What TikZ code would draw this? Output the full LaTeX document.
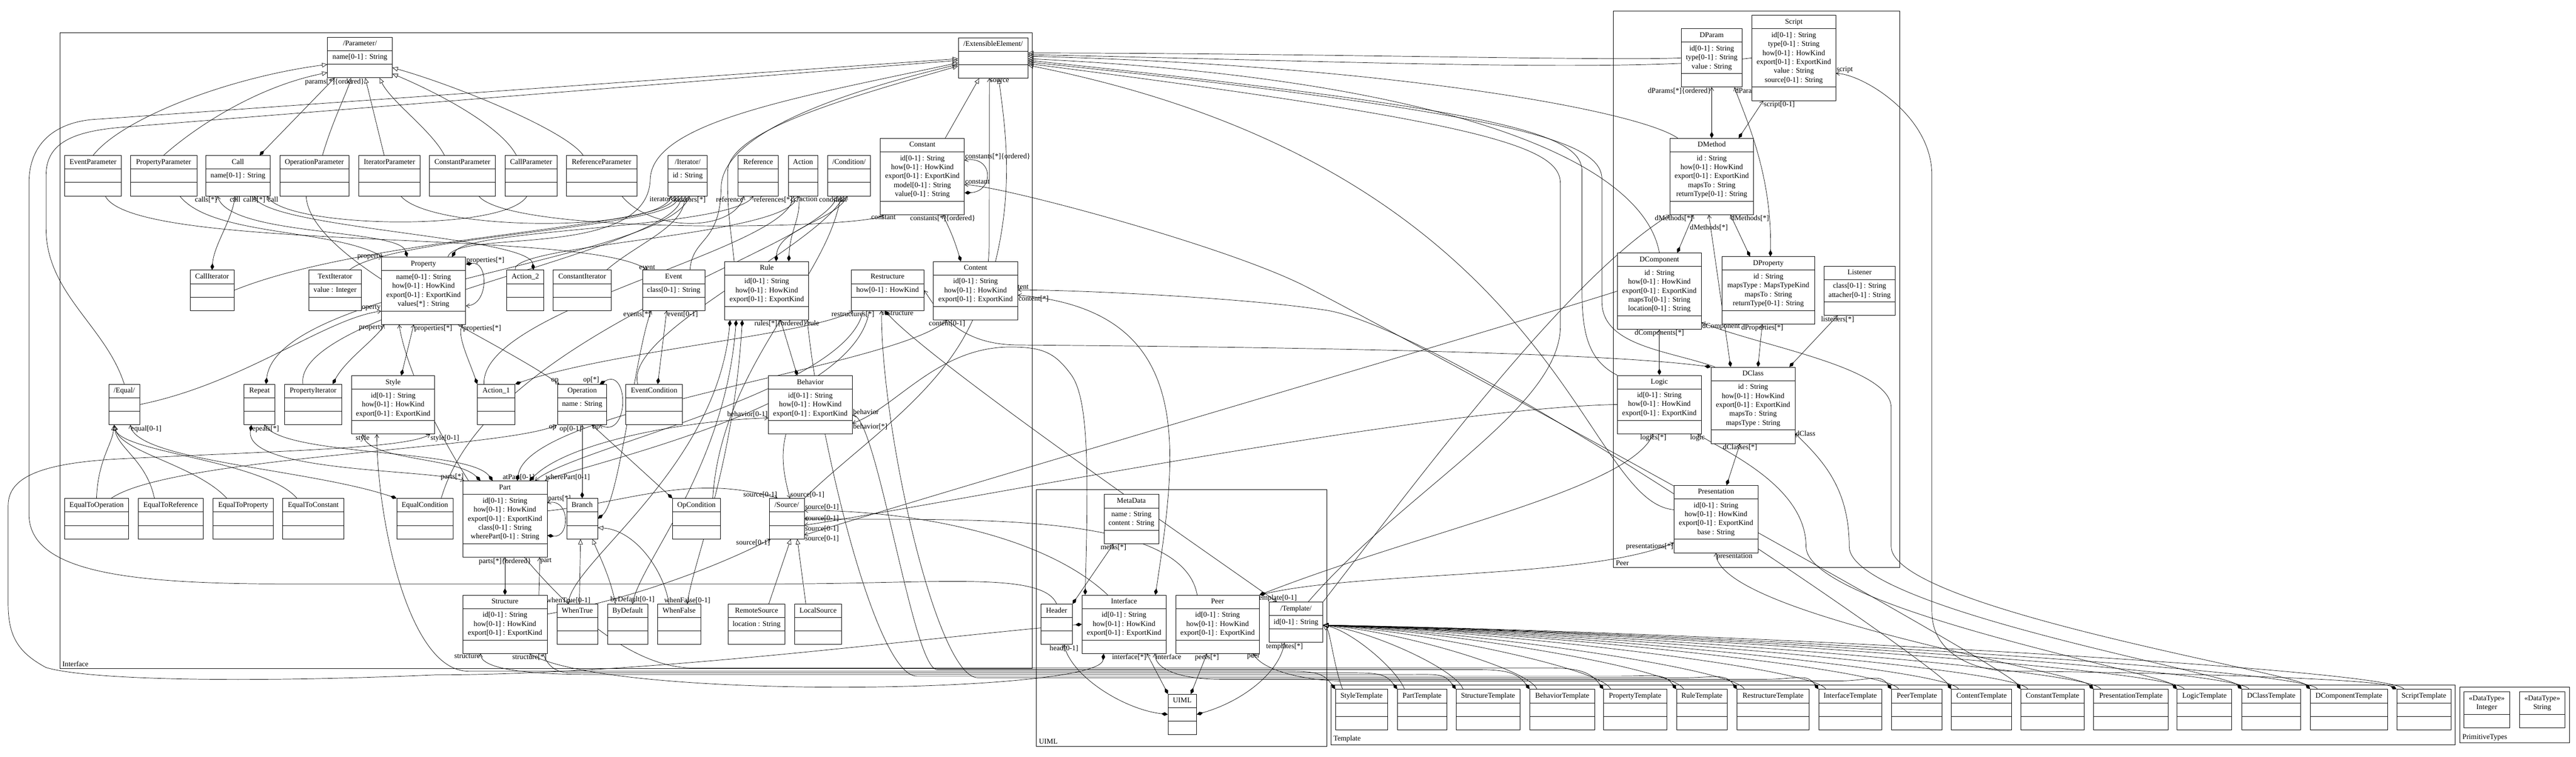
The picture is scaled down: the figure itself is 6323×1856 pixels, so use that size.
\documentclass[tikz,border=0pt]{standalone}
\usepackage{fontspec}
\setmainfont{Liberation Serif}
\usetikzlibrary{shapes.multipart,arrows.meta}
\pgfdeclarelayer{bg}
\pgfdeclarelayer{edges}
\pgfsetlayers{bg,edges,main}
\newcommand\clsfont{\fontsize{18}{22}\selectfont}

\begin{document}
\begin{tikzpicture}[x=1pt, y=-1pt,
  cls/.style={draw, fill=white, line width=1pt, rectangle split, rectangle split parts=3,
    rectangle split empty part height=15.4pt, rectangle split empty part depth=6.6pt,
    inner xsep=5pt, inner ysep=5pt, align=center, anchor=north, font=\clsfont},
  dtype/.style={cls, rectangle split parts=2},
  gen/.style={line width=0.9pt, -{Triangle[open, length=13pt, width=11pt]}},
  comp/.style={line width=0.9pt, {Diamond[length=16pt, width=9pt]}-{Straight Barb[length=8pt, width=10pt]}},
  assoc/.style={line width=0.9pt, -{Straight Barb[length=8pt, width=10pt]}},
  role/.style={font=\clsfont, inner sep=1pt},
  pkg/.style={line width=1pt},
  pkgname/.style={font=\clsfont, anchor=south west, inner sep=2pt}]

\useasboundingbox (0,0) rectangle (6323,1856);
\begin{pgfonlayer}{bg}
  \fill[white] (0,0) rectangle (6323,1856);
\end{pgfonlayer}

% packages
\draw[pkg] (147,80) rectangle (2534,1640);
\node[pkgname] (pkginterface) at (151,1637) {Interface};
\draw[pkg] (2544,1200) rectangle (3257,1830);
\node[pkgname] (pkguiml) at (2548,1827) {UIML};
\draw[pkg] (3960,27) rectangle (4663,1392);
\node[pkgname] (pkgpeer) at (3964,1389) {Peer};
\draw[pkg] (3267,1680) rectangle (6026,1826);
\node[pkgname] (pkgtemplate) at (3271,1823) {Template};
\draw[pkg] (6038,1685) rectangle (6307,1822);
\node[pkgname] (pkgprim) at (6042,1819) {PrimitiveTypes};

% interface package, top rows
\node[cls, minimum width=159] (param) at (883.5,91) {\strut/Parameter/\nodepart{two}\strut name[0-1] : String\strut\nodepart{three}\strut};
\node[cls, minimum width=171] (extel) at (2437.5,92) {\strut/ExtensibleElement/\nodepart{two}\strut\nodepart{three}\strut};
\node[cls, minimum width=139] (evparam) at (228.5,381) {\strut EventParameter\nodepart{two}\strut\nodepart{three}\strut};
\node[cls, minimum width=163] (propparam) at (401.5,381) {\strut PropertyParameter\nodepart{two}\strut\nodepart{three}\strut};
\node[cls, minimum width=158] (call) at (584,381) {\strut Call\nodepart{two}\strut name[0-1] : String\strut\nodepart{three}\strut};
\node[cls, minimum width=169] (opparam) at (771.5,381) {\strut OperationParameter\nodepart{two}\strut\nodepart{three}\strut};
\node[cls, minimum width=150] (itparam) at (956,381) {\strut IteratorParameter\nodepart{two}\strut\nodepart{three}\strut};
\node[cls, minimum width=162] (constparam) at (1135,381) {\strut ConstantParameter\nodepart{two}\strut\nodepart{three}\strut};
\node[cls, minimum width=127] (callparam) at (1303.5,381) {\strut CallParameter\nodepart{two}\strut\nodepart{three}\strut};
\node[cls, minimum width=173] (refparam) at (1476.5,381) {\strut ReferenceParameter\nodepart{two}\strut\nodepart{three}\strut};
\node[cls, minimum width=96] (iterator) at (1688,381) {\strut/Iterator/\nodepart{two}\strut id : String\strut\nodepart{three}\strut};
\node[cls, minimum width=98] (reference) at (1861,381) {\strut Reference\nodepart{two}\strut\nodepart{three}\strut};
\node[cls, minimum width=72] (action) at (1971,381) {\strut Action\nodepart{two}\strut\nodepart{three}\strut};
\node[cls, minimum width=106] (condition) at (2084,381) {\strut/Condition/\nodepart{two}\strut\nodepart{three}\strut};
\node[cls, minimum width=206] (constant) at (2264,339) {\strut Constant\nodepart{two}\strut id[0-1] : String\\how[0-1] : HowKind\\export[0-1] : ExportKind\\model[0-1] : String\\value[0-1] : String\strut\nodepart{three}\strut};

% interface package, middle rows
\node[cls, minimum width=107] (calliter) at (520.5,662) {\strut CallIterator\nodepart{two}\strut\nodepart{three}\strut};
\node[cls, minimum width=129] (textiter) at (822.5,662) {\strut TextIterator\nodepart{two}\strut value : Integer\strut\nodepart{three}\strut};
\node[cls, minimum width=207] (property) at (1039.5,630) {\strut Property\nodepart{two}\strut name[0-1] : String\\how[0-1] : HowKind\\export[0-1] : ExportKind\\values[*] : String\strut\nodepart{three}\strut};
\node[cls, minimum width=91] (action2) at (1289.5,662) {\strut Action\_2\nodepart{two}\strut\nodepart{three}\strut};
\node[cls, minimum width=142] (constiter) at (1429,662) {\strut ConstantIterator\nodepart{two}\strut\nodepart{three}\strut};
\node[cls, minimum width=153] (event) at (1653.5,662) {\strut Event\nodepart{two}\strut class[0-1] : String\strut\nodepart{three}\strut};
\node[cls, minimum width=206] (rule) at (1882,641) {\strut Rule\nodepart{two}\strut id[0-1] : String\\how[0-1] : HowKind\\export[0-1] : ExportKind\strut\nodepart{three}\strut};
\node[cls, minimum width=179] (restructure) at (2178.5,662) {\strut Restructure\nodepart{two}\strut how[0-1] : HowKind\strut\nodepart{three}\strut};
\node[cls, minimum width=207] (content) at (2394.5,641) {\strut Content\nodepart{two}\strut id[0-1] : String\\how[0-1] : HowKind\\export[0-1] : ExportKind\strut\nodepart{three}\strut};
\node[cls, minimum width=76] (equal) at (305,942) {\strut/Equal/\nodepart{two}\strut\nodepart{three}\strut};
\node[cls, minimum width=76] (repeat) at (637,942) {\strut Repeat\nodepart{two}\strut\nodepart{three}\strut};
\node[cls, minimum width=141] (propiter) at (768.5,942) {\strut PropertyIterator\nodepart{two}\strut\nodepart{three}\strut};
\node[cls, minimum width=204] (style) at (965,921) {\strut Style\nodepart{two}\strut id[0-1] : String\\how[0-1] : HowKind\\export[0-1] : ExportKind\strut\nodepart{three}\strut};
\node[cls, minimum width=92] (action1) at (1218,942) {\strut Action\_1\nodepart{two}\strut\nodepart{three}\strut};
\node[cls, minimum width=120] (operation) at (1429,942) {\strut Operation\nodepart{two}\strut name : String\strut\nodepart{three}\strut};
\node[cls, minimum width=139] (eventcond) at (1605.5,942) {\strut EventCondition\nodepart{two}\strut\nodepart{three}\strut};
\node[cls, minimum width=206] (behavior) at (1989,921) {\strut Behavior\nodepart{two}\strut id[0-1] : String\\how[0-1] : HowKind\\export[0-1] : ExportKind\strut\nodepart{three}\strut};

% interface package, bottom rows
\node[cls, minimum width=158] (eqop) at (237,1222) {\strut EqualToOperation\nodepart{two}\strut\nodepart{three}\strut};
\node[cls, minimum width=160] (eqref) at (419,1222) {\strut EqualToReference\nodepart{two}\strut\nodepart{three}\strut};
\node[cls, minimum width=148] (eqprop) at (597,1222) {\strut EqualToProperty\nodepart{two}\strut\nodepart{three}\strut};
\node[cls, minimum width=150] (eqconst) at (769,1222) {\strut EqualToConstant\nodepart{two}\strut\nodepart{three}\strut};
\node[cls, minimum width=138] (eqcond) at (1043,1222) {\strut EqualCondition\nodepart{two}\strut\nodepart{three}\strut};
\node[cls, minimum width=207] (part) at (1239.5,1179) {\strut Part\nodepart{two}\strut id[0-1] : String\\how[0-1] : HowKind\\export[0-1] : ExportKind\\class[0-1] : String\\wherePart[0-1] : String\strut\nodepart{three}\strut};
\node[cls, minimum width=76] (branch) at (1429,1222) {\strut Branch\nodepart{two}\strut\nodepart{three}\strut};
\node[cls, minimum width=117] (opcond) at (1709.5,1222) {\strut OpCondition\nodepart{two}\strut\nodepart{three}\strut};
\node[cls, minimum width=86] (source) at (1931,1222) {\strut/Source/\nodepart{two}\strut\nodepart{three}\strut};
\node[cls, minimum width=207] (structure) at (1239.5,1459) {\strut Structure\nodepart{two}\strut id[0-1] : String\\how[0-1] : HowKind\\export[0-1] : ExportKind\strut\nodepart{three}\strut};
\node[cls, minimum width=100] (whentrue) at (1417,1481) {\strut WhenTrue\nodepart{two}\strut\nodepart{three}\strut};
\node[cls, minimum width=99] (bydefault) at (1540.5,1481) {\strut ByDefault\nodepart{two}\strut\nodepart{three}\strut};
\node[cls, minimum width=106] (whenfalse) at (1667,1481) {\strut WhenFalse\nodepart{two}\strut\nodepart{three}\strut};
\node[cls, minimum width=140] (remote) at (1857,1481) {\strut RemoteSource\nodepart{two}\strut location : String\strut\nodepart{three}\strut};
\node[cls, minimum width=116] (local) at (2008,1481) {\strut LocalSource\nodepart{two}\strut\nodepart{three}\strut};

% uiml package
\node[cls, minimum width=134] (metadata) at (2777,1212) {\strut MetaData\nodepart{two}\strut name : String\\content : String\strut\nodepart{three}\strut};
\node[cls, minimum width=77] (header) at (2593.5,1481) {\strut Header\nodepart{two}\strut\nodepart{three}\strut};
\node[cls, minimum width=206] (interface) at (2759,1459) {\strut Interface\nodepart{two}\strut id[0-1] : String\\how[0-1] : HowKind\\export[0-1] : ExportKind\strut\nodepart{three}\strut};
\node[cls, minimum width=205] (peer) at (2988.5,1459) {\strut Peer\nodepart{two}\strut id[0-1] : String\\how[0-1] : HowKind\\export[0-1] : ExportKind\strut\nodepart{three}\strut};
\node[cls, minimum width=132] (template) at (3181,1476) {\strut/Template/\nodepart{two}\strut id[0-1] : String\strut\nodepart{three}\strut};
\node[cls, minimum width=70] (uiml) at (2902,1702) {\strut UIML\nodepart{two}\strut\nodepart{three}\strut};

% peer package
\node[cls, minimum width=149] (dparam) at (4201.5,70) {\strut DParam\nodepart{two}\strut id[0-1] : String\\type[0-1] : String\\value : String\strut\nodepart{three}\strut};
\node[cls, minimum width=206] (script) at (4403,37) {\strut Script\nodepart{two}\strut id[0-1] : String\\type[0-1] : String\\how[0-1] : HowKind\\export[0-1] : ExportKind\\value : String\\source[0-1] : String\strut\nodepart{three}\strut};
\node[cls, minimum width=205] (dmethod) at (4201.5,339) {\strut DMethod\nodepart{two}\strut id : String\\how[0-1] : HowKind\\export[0-1] : ExportKind\\mapsTo : String\\returnType[0-1] : String\strut\nodepart{three}\strut};
\node[cls, minimum width=206] (dcomponent) at (4073,620) {\strut DComponent\nodepart{two}\strut id : String\\how[0-1] : HowKind\\export[0-1] : ExportKind\\mapsTo[0-1] : String\\location[0-1] : String\strut\nodepart{three}\strut};
\node[cls, minimum width=227] (dproperty) at (4340.5,629) {\strut DProperty\nodepart{two}\strut id : String\\mapsType : MapsTypeKind\\mapsTo : String\\returnType[0-1] : String\strut\nodepart{three}\strut};
\node[cls, minimum width=175] (listener) at (4564.5,652) {\strut Listener\nodepart{two}\strut class[0-1] : String\\attacher[0-1] : String\strut\nodepart{three}\strut};
\node[cls, minimum width=206] (logic) at (4073,920) {\strut Logic\nodepart{two}\strut id[0-1] : String\\how[0-1] : HowKind\\export[0-1] : ExportKind\strut\nodepart{three}\strut};
\node[cls, minimum width=206] (dclass) at (4303,900) {\strut DClass\nodepart{two}\strut id : String\\how[0-1] : HowKind\\export[0-1] : ExportKind\\mapsTo : String\\mapsType : String\strut\nodepart{three}\strut};
\node[cls, minimum width=206] (presentation) at (4212,1190) {\strut Presentation\nodepart{two}\strut id[0-1] : String\\how[0-1] : HowKind\\export[0-1] : ExportKind\\base : String\strut\nodepart{three}\strut};

% template package
\foreach \nm/\cx/\bw/\txt in {stylet/3342/128/StyleTemplate, partt/3490.5/121/PartTemplate,
    structt/3652.5/157/StructureTemplate, behavt/3834.5/159/BehaviorTemplate,
    propt/4013.5/155/PropertyTemplate, rulet/4177.5/125/RuleTemplate,
    restrt/4352/176/RestructureTemplate, interfacet/4541.5/155/InterfaceTemplate,
    peert/4705/124/PeerTemplate, contentt/4864/148/ContentTemplate,
    constantt/5038/156/ConstantTemplate, presentt/5230.5/183/PresentationTemplate,
    logict/5411/134/LogicTemplate, dclasst/5575/144/DClassTemplate,
    dcompt/5765.5/189/DComponentTemplate, scriptt/5949.5/133/ScriptTemplate}
  \node[cls, minimum width=\bw] (\nm) at (\cx,1690) {\strut\txt\nodepart{two}\strut\nodepart{three}\strut};

% primitive types
\node[dtype, minimum width=112] (tint) at (6104,1696) {\strut«DataType»\\Integer\strut\nodepart{two}\strut};
\node[dtype, minimum width=112] (tstring) at (6240,1696) {\strut«DataType»\\String\strut\nodepart{two}\strut};

\begin{pgfonlayer}{edges}
% parameters
\draw[gen] (evparam.north) .. controls (300,290) and (560,190) .. ([yshift=-17pt]param.west);
\draw[gen] (propparam.north) .. controls (470,320) and (620,215) .. ([yshift=-37pt]param.west);
\draw[gen] ([xshift=20pt]opparam.north) .. controls (815,300) and (850,230) .. ([xshift=-22pt]param.south);
\draw[gen] ([xshift=-13pt]itparam.north) -- ([xshift=13pt]param.south);
\draw[gen] ([xshift=-44pt]constparam.north) .. controls (1060,320) and (960,250) .. ([xshift=48pt]param.south);
\draw[gen] ([xshift=-36pt]callparam.north) .. controls (1230,310) and (1080,230) .. ([yshift=-40pt]param.east);
\draw[gen] ([xshift=-45pt]refparam.north) .. controls (1390,320) and (1120,210) .. ([yshift=-25pt]param.east);
\draw[comp] ([xshift=53pt]call.north) -- ([xshift=-62pt]param.south) node[role, pos=1, anchor=north] {params[*]\{ordered\}};
\draw[assoc] ([xshift=30pt]evparam.south) .. controls (330,620) and (1450,560) .. ([xshift=12pt]event.north west) node[role, pos=1, anchor=south] {event};
\draw[assoc] ([xshift=40pt]propparam.south) .. controls (520,580) and (820,560) .. ([xshift=4pt]property.north west) node[role, pos=1, anchor=east] {property};
\draw[assoc] ([xshift=-20pt]opparam.south) .. controls (760,640) and (1200,820) .. ([xshift=4pt]operation.north west) node[role, pos=1, anchor=south east] {op};
\draw[assoc] ([xshift=28pt]itparam.south) .. controls (1060,570) and (1620,570) .. ([xshift=-40pt]iterator.south) node[role, pos=1, anchor=north east] {iterator};
\draw[assoc] ([xshift=40pt]constparam.south) .. controls (1260,580) and (2140,560) .. ([xshift=8pt]constant.south west) node[role, pos=1, anchor=north] {constant};
\draw[assoc] ([xshift=-10pt]callparam.south) .. controls (1240,570) and (700,560) .. ([xshift=-8pt]call.south east) node[role, pos=1, anchor=north west] {call};
\draw[assoc] ([xshift=50pt]refparam.south) .. controls (1600,570) and (1800,570) .. ([xshift=-35pt]reference.south) node[role, pos=1, anchor=north east] {reference};

% iterators and calls
\draw[gen] (calliter.east) .. controls (900,580) and (1610,560) .. ([xshift=-30pt]iterator.south);
\draw[gen] ([xshift=35pt]textiter.north) .. controls (960,580) and (1630,560) .. ([xshift=-22pt]iterator.south);
\draw[gen] ([xshift=-25pt]propiter.north) .. controls (720,760) and (1630,620) .. ([xshift=-14pt]iterator.south);
\draw[gen] ([xshift=60pt]constiter.north) .. controls (1560,600) and (1670,560) .. ([xshift=-6pt]iterator.south);
\draw[comp] ([xshift=16pt]repeat.north) .. controls (680,700) and (1640,640) .. ([xshift=4pt]iterator.south) node[role, pos=1, anchor=north] {iterators[*]};
\draw[comp] (calliter.north) .. controls (525,600) and (570,540) .. ([xshift=-7pt]call.south) node[role, pos=1, anchor=north] {call};
\draw[comp] ([xshift=-40pt]property.north) .. controls (980,560) and (560,580) .. ([xshift=-50pt]call.south) node[role, pos=1, anchor=north east] {calls[*]};
\draw[comp] ([xshift=20pt]action2.north) .. controls (1300,580) and (650,560) .. ([xshift=40pt]call.south) node[role, pos=1, anchor=north] {calls[*]};
\draw[comp] ([xshift=70pt]property.north) .. controls (1150,560) and (1800,560) .. ([xshift=-12pt]reference.south) node[role, pos=1, anchor=north west] {references[*]};

% equal
\draw[gen] (eqop.north) .. controls (240,1130) and (275,1090) .. ([xshift=-25pt]equal.south);
\draw[gen] ([xshift=-40pt]eqref.north) .. controls (360,1130) and (290,1100) .. ([xshift=-25pt]equal.south);
\draw[gen] ([xshift=-40pt]eqprop.north) .. controls (480,1140) and (300,1110) .. ([xshift=-25pt]equal.south);
\draw[gen] ([xshift=-40pt]eqconst.north) .. controls (650,1130) and (300,1110) .. ([xshift=-25pt]equal.south);
\draw[comp] (eqcond.north west) .. controls (760,1150) and (330,1130) .. ([xshift=15pt]equal.south) node[role, pos=1, anchor=north west] {equal[0-1]};
\draw[assoc] (equal.east) .. controls (600,940) and (800,780) .. ([yshift=-50pt]property.west) node[role, pos=1, anchor=south east] {property};
\draw[assoc] ([xshift=36pt]eqop.north) .. controls (420,1120) and (1250,1100) .. ([xshift=-62pt]operation.south) node[role, pos=1, anchor=north east] {op};

% style and property
\draw[comp] ([xshift=20pt]style.north) -- ([xshift=-24pt]property.south) node[role, pos=1, anchor=north west] {properties[*]};
\draw[comp] ([xshift=-23pt]propiter.north east) .. controls (850,880) and (925,830) .. ([xshift=8pt]property.south west) node[role, pos=1, anchor=north east] {property};
\draw[comp] ([yshift=65pt]property.east) .. controls (1200,640) and (1200,750) .. ([yshift=-37pt]property.east) node[role, pos=0, anchor=south west] {properties[*]};
\draw[comp] (action1.north west) .. controls (1150,880) and (1120,820) .. ([xshift=-8pt]property.south east) node[role, pos=1, anchor=north west] {properties[*]};
\draw[comp] ([xshift=-60pt]part.north) .. controls (1120,1120) and (900,1130) .. ([xshift=-75pt]style.south) node[role, pos=1, anchor=north] {style};

% actions and conditions
\draw[gen] ([xshift=-30pt]action1.north) .. controls (1180,760) and (1900,620) .. ([xshift=-22pt]action.south);
\draw[gen] ([xshift=-25pt]action2.north) .. controls (1250,600) and (1900,580) .. ([xshift=-12pt]action.south);
\draw[gen] ([xshift=40pt]eqcond.north) .. controls (1200,820) and (1980,620) .. ([xshift=-28pt]condition.south);
\draw[gen] ([xshift=40pt]opcond.north) .. controls (1770,900) and (2020,700) .. ([xshift=-20pt]condition.south);
\draw[gen] ([xshift=-40pt]eventcond.north) .. controls (1530,820) and (1980,620) .. ([xshift=-12pt]condition.south);
\draw[comp] ([xshift=23pt]rule.north) .. controls (1910,560) and (2050,540) .. ([xshift=-4pt]condition.south) node[role, pos=1, anchor=north east] {condition};
\draw[comp] ([xshift=54pt]rule.north) .. controls (1940,560) and (1965,540) .. ([xshift=-10pt]action.south) node[role, pos=1, anchor=north west] {action};
\draw[comp] ([xshift=-32pt]behavior.north) -- ([xshift=34pt]rule.south) node[role, pos=1, anchor=north] {rules[*]\{ordered\}};

% operation and event
\draw[comp] (branch.north) -- (operation.south) node[role, pos=1, anchor=north east] {op[0-1]};
\draw[comp] (opcond.north west) -- ([xshift=24pt]operation.south) node[role, pos=1, anchor=north west] {op};
\draw[comp] ([xshift=43pt]operation.north) .. controls (1545,900) and (1545,1080) .. ([xshift=43pt]operation.south) node[role, pos=0, anchor=south east] {op[*]};
\draw[comp] ([xshift=9pt]eventcond.north) -- ([xshift=-17pt]event.south) node[role, pos=1, anchor=north west] {event[0-1]};
\draw[comp] (branch.east) .. controls (1520,1230) and (1560,860) .. ([xshift=-55pt]event.south) node[role, pos=1, anchor=north east] {events[*]};

% part and structure
\draw[comp] (structure.north) -- (part.south) node[role, pos=1, anchor=north] {parts[*]\{ordered\}};
\draw[comp] ([yshift=-40pt]part.east) .. controls (1400,1320) and (1400,1220) .. ([yshift=40pt]part.east) node[role, pos=1, anchor=south west] {parts[*]};
\draw[comp] ([xshift=-20pt]repeat.south) .. controls (600,1160) and (1060,1150) .. ([xshift=4pt]part.north west) node[role, pos=1, anchor=south east] {parts[*]};
\draw[comp] ([xshift=-30pt]part.north) .. controls (1150,1100) and (700,1120) .. ([xshift=12pt]repeat.south) node[role, pos=1, anchor=north] {repeats[*]};
\draw[comp] ([xshift=30pt]part.north) .. controls (1300,1000) and (2200,900) .. ([xshift=-70pt]content.south) node[role, pos=1, anchor=north] {content[0-1]};
\draw[comp] ([xshift=60pt]part.north) .. controls (1400,1080) and (1700,1030) .. ([yshift=-32pt]behavior.west) node[role, pos=1, anchor=south east] {behavior[0-1]};
\draw[assoc] ([xshift=-60pt]restructure.south) .. controls (2080,960) and (1400,1100) .. ([xshift=-30pt]part.north east) node[role, pos=1, anchor=south east] {atPart[0-1]};
\draw[assoc] ([xshift=-45pt]restructure.south) .. controls (2100,1000) and (1420,1140) .. ([xshift=-6pt]part.north east) node[role, pos=1, anchor=south west] {wherePart[0-1]};
\draw[comp] (action1.north east) .. controls (1500,860) and (2000,820) .. ([xshift=5pt]restructure.south west) node[role, pos=1, anchor=north] {restructures[*]};
\draw[comp] ([xshift=-7pt]restructure.south) .. controls (2300,900) and (3000,1380) .. ([xshift=-47pt]template.north) node[role, pos=1, anchor=south] {template[0-1]};

% branch and source
\draw[gen] ([xshift=5pt]whentrue.north) -- ([xshift=-4pt]branch.south);
\draw[gen] ([xshift=-30pt]bydefault.north) .. controls (1500,1420) and (1470,1360) .. ([xshift=25pt]branch.south);
\draw[gen] ([xshift=-25pt]whenfalse.north) .. controls (1630,1400) and (1560,1300) .. ([yshift=-22pt]branch.east);
\draw[comp] ([xshift=-90pt]rule.south) .. controls (1760,1150) and (1400,1380) .. ([xshift=-22pt]whentrue.north) node[role, pos=1, anchor=south] {whenTrue[0-1]};
\draw[comp] ([xshift=-75pt]rule.south) .. controls (1780,1150) and (1570,1380) .. ([xshift=12pt]bydefault.north) node[role, pos=1, anchor=south] {byDefault[0-1]};
\draw[comp] ([xshift=-60pt]rule.south) .. controls (1800,1150) and (1700,1380) .. ([xshift=20pt]whenfalse.north) node[role, pos=1, anchor=south] {whenFalse[0-1]};
\draw[gen] ([xshift=30pt]remote.north) -- ([xshift=10pt]source.south);
\draw[gen] ([xshift=-30pt]local.north) -- ([xshift=26pt]source.south);
\draw[assoc] ([yshift=20pt]part.east) .. controls (1550,1230) and (1700,1160) .. ([xshift=-22pt]source.north) node[role, pos=1, anchor=south east] {source[0-1]};
\draw[assoc] ([xshift=-60pt]behavior.south) .. controls (1915,1120) and (1925,1170) .. ([xshift=8pt]source.north) node[role, pos=1, anchor=south west] {source[0-1]};
\draw[assoc] ([yshift=25pt]structure.east) .. controls (1600,1460) and (1820,1360) .. ([xshift=4pt]source.south west) node[role, pos=1, anchor=north east] {source[0-1]};
\draw[assoc] ([xshift=-40pt]interface.north) .. controls (2550,1300) and (2200,1250) .. ([yshift=20pt]source.east) node[role, pos=1, anchor=south west] {source[0-1]};
\draw[assoc] ([xshift=-50pt]peer.north) .. controls (2900,1240) and (2300,1280) .. (source.east) node[role, pos=1, anchor=west] {source[0-1]};
\draw[assoc] (logic.west) .. controls (3500,1000) and (2300,1240) .. ([yshift=-16pt]source.east) node[role, pos=1, anchor=north west] {source[0-1]};
\draw[assoc] (dcomponent.west) .. controls (3700,800) and (2400,1180) .. ([yshift=-40pt]source.east) node[role, pos=1, anchor=north west] {source[0-1]};

% constant and content
\draw[comp] ([xshift=-36pt]content.north) .. controls (2340,580) and (2330,560) .. ([xshift=50pt]constant.south) node[role, pos=1, anchor=north] {constants[*]\{ordered\}};
\draw[comp] ([yshift=-40pt]constant.east) .. controls (2440,470) and (2440,380) .. ([yshift=40pt]constant.east) node[role, pos=1, anchor=south west] {constants[*]\{ordered\}};

% extensible element
\draw[gen] ([xshift=56pt]constant.north) -- ([xshift=-34pt]extel.south);
\draw[gen] ([xshift=49pt]content.north) .. controls (2490,450) and (2465,300) .. ([xshift=14pt]extel.south);
\draw[assoc] (source.north east) .. controls (2150,1050) and (2425,900) .. (2428,600) -- ([xshift=-9pt]extel.south) node[role, pos=1, anchor=north west] {source};
\draw[gen] ([xshift=60pt]property.north) .. controls (1120,560) and (1590,640) .. (1596,440) .. controls (1600,300) and (1950,240) .. ([yshift=-12pt]extel.west);
\draw[gen] ([xshift=40pt]event.north) .. controls (1700,580) and (1768,600) .. (1770,460) .. controls (1772,330) and (2050,230) .. ([yshift=-16pt]extel.west);
\draw[gen] ([xshift=-80pt]rule.north) .. controls (1796,580) and (1784,520) .. (1786,420) .. controls (1790,320) and (2080,240) .. ([yshift=-20pt]extel.west);
\draw[gen] (equal.north) .. controls (260,800) and (113,720) .. (113,560) -- (113,430) .. controls (113,350) and (180,322) .. (300,312) -- ([yshift=-6pt]extel.west);
\draw[gen] (header.north) .. controls (2560,1400) and (2300,1432) .. (1900,1432) -- (700,1432) .. controls (300,1432) and (71,1400) .. (71,1260) -- (71,450) .. controls (71,340) and (150,295) .. (245,292) -- ([yshift=-2pt]extel.west);
\draw[comp] (interface.west) .. controls (2300,1560) and (1600,1655) .. (1070,1655) .. controls (600,1675) and (218,1668) .. (113,1637) .. controls (44,1600) and (20,1560) .. (20,1480) -- (20,1240) .. controls (20,1170) and (100,1135) .. (300,1125) .. controls (700,1105) and (1000,1100) .. ([xshift=-12pt]style.south east) node[role, pos=1, anchor=north west] {style[0-1]};
\draw[gen] ([xshift=20pt]dmethod.north west) .. controls (4020,270) and (3400,160) .. ([yshift=4pt]extel.east);
\draw[gen] (dcomponent.north) .. controls (4030,380) and (3500,190) .. ([yshift=-2pt]extel.east);
\draw[gen] (script.west) .. controls (4000,180) and (3300,150) .. ([yshift=8pt]extel.east);
\draw[gen] (dparam.west) .. controls (3950,150) and (3200,130) .. ([yshift=12pt]extel.east);
\draw[gen] (logic.north west) .. controls (3890,880) and (3883,800) .. (3883,700) -- (3883,420) .. controls (3883,330) and (3700,270) .. ([yshift=-6pt]extel.east);
\draw[gen] ([xshift=10pt]dclass.north west) .. controls (4100,860) and (3932,850) .. (3932,740) -- (3932,440) .. controls (3932,350) and (3750,280) .. ([yshift=-10pt]extel.east);
\draw[gen] ([yshift=23pt]presentation.west) .. controls (3880,1230) and (3830,420) .. ([yshift=-18pt]extel.east);
\draw[gen] ([xshift=30pt]template.north) .. controls (3450,1200) and (3830,1000) .. (3830,800) -- (3830,450) .. controls (3830,360) and (3650,300) .. ([yshift=-14pt]extel.east);
\draw[comp] (dclass.north west) .. controls (3900,860) and (3000,850) .. (2500,846) .. controls (2350,846) and (2300,760) .. (restructure.east);
\draw[assoc] (template.north east) .. controls (3500,1150) and (3850,680) .. (dmethod.south west);

% uiml
\draw[comp] (uiml.west) .. controls (2760,1740) and (2630,1660) .. ([xshift=18pt]header.south) node[role, pos=1, anchor=north] {head[0-1]};
\draw[comp] ([xshift=-35pt]uiml.north) -- ([xshift=56pt]interface.south) node[role, pos=1, anchor=north east] {interface[*]};
\draw[comp] ([xshift=21pt]uiml.north) -- ([xshift=-26pt]peer.south) node[role, pos=1, anchor=north] {peers[*]};
\draw[comp] (uiml.east) .. controls (3050,1720) and (3140,1650) .. ([xshift=-28pt]template.south) node[role, pos=1, anchor=north] {templates[*]};
\draw[comp] (header.north east) -- ([xshift=-44pt]metadata.south) node[role, pos=1, anchor=north] {metas[*]};
\draw[comp] ([xshift=77pt]interface.north) .. controls (2890,1100) and (2940,760) .. ([yshift=-11pt]content.east) node[role, pos=1, anchor=north west] {content[*]};
\draw[comp] ([xshift=8pt]interface.north west) .. controls (2672,1150) and (2672,980) .. (2630,920) .. controls (2590,865) and (2560,851) .. (2480,851) .. controls (2300,851) and (2200,1000) .. ([yshift=-45pt]behavior.east) node[role, pos=1, anchor=north west] {behavior[*]};
\draw[comp] ([xshift=-50pt]interface.south) .. controls (2700,1700) and (1500,1720) .. ([xshift=60pt]structure.south) node[role, pos=1, anchor=north] {structure[*]};
\draw[comp] (peer.north east) .. controls (3350,1400) and (3900,1420) .. ([yshift=-58pt]presentation.west) node[role, pos=1, anchor=north east] {presentations[*]};
\draw[comp] (peer.north east) .. controls (3500,1300) and (4000,1200) .. ([xshift=-15pt]logic.south) node[role, pos=1, anchor=north] {logics[*]};

% peer
\draw[comp] (dmethod.north) -- (dparam.south) node[role, pos=1, anchor=north east] {dParams[*]\{ordered\}};
\draw[comp] ([xshift=66pt]dmethod.north) -- ([xshift=-75pt]script.south) node[role, pos=1, anchor=north west] {script[0-1]};
\draw[comp] ([xshift=5pt]dproperty.north) .. controls (4350,420) and (4280,280) .. ([xshift=56pt]dparam.south) node[role, pos=1, anchor=north west] {dParams[*]};
\draw[comp] ([xshift=44pt]dcomponent.north) -- ([xshift=-45pt]dmethod.south) node[role, pos=1, anchor=north east] {dMethods[*]};
\draw[comp] ([xshift=-45pt]dproperty.north) -- ([xshift=46pt]dmethod.south) node[role, pos=1, anchor=north west] {dMethods[*]};
\draw[comp] ([xshift=-55pt]dclass.north) -- ([xshift=-7pt]dmethod.south) node[role, pos=1, anchor=north, yshift=-22pt] {dMethods[*]};
\draw[comp] ([xshift=12pt]dclass.north) -- ([xshift=-15pt]dproperty.south) node[role, pos=1, anchor=north] {dProperties[*]};
\draw[comp] ([xshift=89pt]dclass.north) -- ([xshift=-54pt]listener.south) node[role, pos=1, anchor=north] {listeners[*]};
\draw[comp] (logic.north) -- (dcomponent.south) node[role, pos=1, anchor=north] {dComponents[*]};
\draw[comp] ([xshift=26pt]presentation.north) -- ([xshift=-32pt]dclass.south) node[role, pos=1, anchor=north] {dClasses[*]};

% templates
\foreach \tp/\c in {stylet/17, partt/70, structt/120, behavt/184, propt/247, rulet/310,
    restrt/362, interfacet/432, peert/495, contentt/546, constantt/606, presentt/668,
    logict/740, dclasst/796, dcompt/855, scriptt/929}
  \draw[gen] ([xshift=18pt]\tp.north west) .. controls +(-20,-50) and +(\c,15) .. ([yshift=-7pt]template.east);
\draw[comp] (stylet.north west) .. controls +(-30,-40) and +(80,0) .. (3150,1646) -- (1150,1646) .. controls +(-150,0) and +(0,200) .. ([xshift=-40pt]style.south);
\draw[comp] (partt.north west) .. controls +(-30,-40) and +(80,0) .. (3300,1650) -- (1400,1650) .. controls +(-100,0) and +(0,150) .. ([xshift=85pt]part.south) node[role, pos=1, anchor=north west] {part};
\draw[comp] (structt.north west) .. controls +(-30,-40) and +(80,0) .. (3450,1654) -- (1450,1654) .. controls +(-200,0) and +(0,30) .. ([xshift=-60pt]structure.south) node[role, pos=1, anchor=north east] {structure};
\draw[comp] (behavt.north west) .. controls +(-30,-40) and +(80,0) .. (3620,1642) -- (2300,1642) .. controls +(-60,0) and +(60,0) .. ([yshift=-25pt]behavior.east) node[role, pos=1, anchor=south west] {behavior};
\draw[comp] (propt.north west) .. controls +(-30,-40) and +(80,0) .. (3800,1638) -- (1700,1638) .. controls +(-300,0) and +(40,250) .. ([xshift=-60pt]property.south);
\draw[comp] (rulet.north west) .. controls +(-30,-40) and +(80,0) .. (3980,1658) -- (2250,1658) .. controls +(-100,0) and +(30,300) .. ([xshift=-4pt]rule.south east) node[role, pos=1, anchor=north west] {rule};
\draw[comp] (restrt.north west) .. controls +(-30,-40) and +(80,0) .. (4130,1662) -- (2400,1662) .. controls +(-100,0) and +(0,300) .. ([xshift=-15pt]restructure.south) node[role, pos=1, anchor=north west] {restructure};
\draw[comp] (interfacet.north west) .. controls +(-30,-40) and +(80,0) .. (4330,1666) -- (3000,1666) .. controls +(-100,0) and +(0,40) .. ([xshift=76pt]interface.south) node[role, pos=1, anchor=north west] {interface};
\draw[comp] (peert.north west) .. controls +(-30,-40) and +(80,0) .. (4510,1670) -- (3300,1670) .. controls +(-100,0) and +(20,40) .. ([xshift=-15pt]peer.south east) node[role, pos=1, anchor=north] {peer};
\draw[comp] (contentt.north west) .. controls +(-40,-60) and +(300,40) .. (3250,760) .. controls +(-200,-30) and +(150,0) .. ([yshift=2pt]content.east) node[role, pos=1, anchor=south] {content};
\draw[comp] (constantt.north west) .. controls +(-40,-60) and +(200,100) .. (3200,700) .. controls +(-200,-100) and +(80,0) .. ([yshift=-20pt]constant.east) node[role, pos=1, anchor=south west] {constant};
\draw[comp] (presentt.north west) .. controls +(-40,-40) and +(0,150) .. (presentation.south) node[role, pos=1, anchor=north west] {presentation};
\draw[comp] (logict.north west) .. controls +(-40,-40) and +(0,150) .. (4433,1340) .. controls +(0,-150) and +(60,40) .. ([xshift=-10pt]logic.south east) node[role, pos=1, anchor=north] {logic};
\draw[comp] (dclasst.north west) .. controls +(-40,-40) and +(0,150) .. (4539,1340) .. controls +(0,-150) and +(60,60) .. ([yshift=-69pt]dclass.east) node[role, pos=1, anchor=west] {dClass};
\draw[comp] (dcompt.north west) .. controls +(-40,-40) and +(0,150) .. (4642,1340) -- (4642,1000) .. controls +(0,-100) and +(150,60) .. ([yshift=-77pt]dcomponent.east) node[role, pos=1, anchor=north west] {dComponent};
\draw[comp] (scriptt.north west) .. controls +(-60,-30) and +(150,0) .. (4940,1646) .. controls +(-100,0) and +(0,100) .. (4742,1500) -- (4742,430) .. controls +(0,-150) and +(60,0) .. ([yshift=-38pt]script.east) node[role, pos=1, anchor=south west] {script};
\end{pgfonlayer}
\end{tikzpicture}
\end{document}
